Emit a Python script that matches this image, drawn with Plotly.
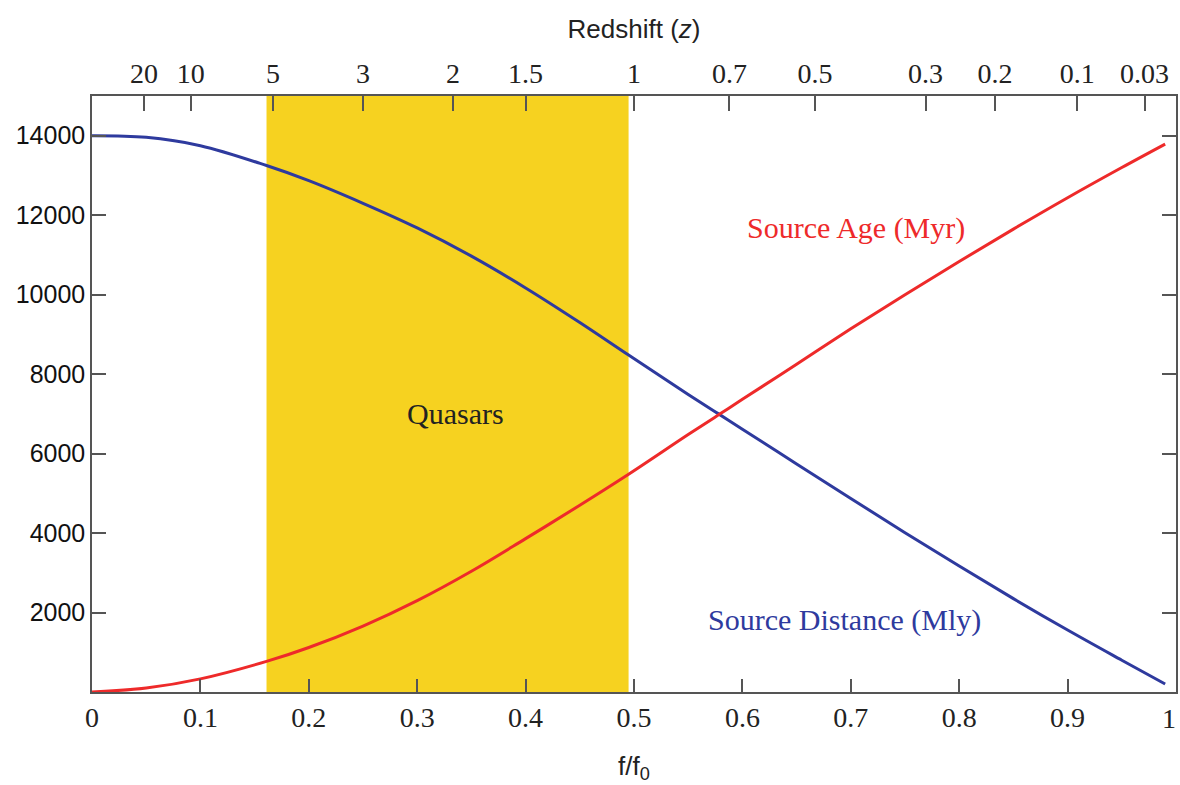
import plotly.graph_objects as go

# f/f0 sample positions
f_ratio = [0, 0.05, 0.1, 0.161, 0.2, 0.25, 0.3, 0.35, 0.4, 0.45, 0.495, 0.55,
           0.578, 0.6, 0.65, 0.7, 0.75, 0.8, 0.85, 0.9, 0.95, 0.99]
# Source distance (Mly)
distance = [14000, 13960, 13750, 13250, 12870, 12300, 11680, 10970, 10170, 9300,
            8480, 7490, 7000, 6615, 5740, 4870, 4010, 3170, 2350, 1560, 800, 200]
# Source age (Myr)
age = [0, 100, 330, 770, 1120, 1660, 2300, 3040, 3860, 4700, 5480, 6480,
       6975, 7365, 8250, 9140, 10000, 10835, 11650, 12440, 13200, 13790]

# Quasar band in f/f0
quasar_band = [0.161, 0.495]

# Bottom axis ticks
x_ticks = [0, 0.1, 0.2, 0.3, 0.4, 0.5, 0.6, 0.7, 0.8, 0.9, 1.0]
x_ticktext = ["0", "0.1", "0.2", "0.3", "0.4", "0.5", "0.6", "0.7", "0.8", "0.9", "1"]
# Top redshift axis ticks (positions in f/f0)
z_pos = [0.048, 0.091, 0.167, 0.25, 0.333, 0.4, 0.5, 0.588, 0.667, 0.769, 0.833, 0.909, 0.971]
z_text = ["20", "10", "5", "3", "2", "1.5", "1", "0.7", "0.5", "0.3", "0.2", "0.1", "0.03"]
# Y ticks
y_ticks = [2000, 4000, 6000, 8000, 10000, 12000, 14000]
y_ticktext = ["2000", "4000", "6000", "8000", "10000", "12000", "14000"]

BLUE = "#2E3A9E"
RED = "#EE2A2A"
BAND = "#F6D220"
AXIS = "#555555"
SERIF = "Liberation Serif, Times New Roman, serif"
SANS = "Liberation Sans, Arial, Helvetica, sans-serif"

fig = go.Figure()
fig.add_trace(go.Scatter(x=f_ratio, y=distance, mode="lines", line=dict(color=BLUE, width=3, shape="spline"),
                         showlegend=False, hoverinfo="skip"))
fig.add_trace(go.Scatter(x=f_ratio, y=age, mode="lines", line=dict(color=RED, width=3, shape="spline"),
                         showlegend=False, hoverinfo="skip"))
# invisible trace for top axis
fig.add_trace(go.Scatter(x=[0, 1], y=[0, 0], xaxis="x2", mode="lines", line=dict(width=0),
                         opacity=0, showlegend=False, hoverinfo="skip"))

fig.add_vrect(x0=quasar_band[0], x1=quasar_band[1], fillcolor=BAND, opacity=1, line_width=0, layer="below")

fig.add_annotation(x=0.335, y=7000, text="Quasars", showarrow=False,
                   font=dict(family=SERIF, size=30, color="#222222"))
fig.add_annotation(x=0.705, y=11670, text="Source Age (Myr)", showarrow=False,
                   font=dict(family=SERIF, size=30, color=RED))
fig.add_annotation(x=0.694, y=1810, text="Source Distance (Mly)", showarrow=False,
                   font=dict(family=SERIF, size=30, color=BLUE))
# label for the x=1 tick at the very right edge
fig.add_annotation(x=x_ticks[-1], y=0, xref="x", yref="paper", yanchor="top", xanchor="right",
                   yshift=-9, xshift=2,
                   text=x_ticktext[-1], showarrow=False,
                   font=dict(family=SERIF, size=28, color="#222222"))

fig.update_layout(
    width=1180, height=785,
    margin=dict(l=92, r=2, t=96, b=93),
    plot_bgcolor="white", paper_bgcolor="white",
    xaxis=dict(range=[0, 1.0], tickvals=x_ticks[:-1], ticktext=x_ticktext[:-1], ticks="inside", ticklen=13,
               tickwidth=1.5, tickcolor=AXIS, showline=True, linecolor=AXIS, linewidth=1.5,
               mirror=False, showgrid=False, zeroline=False,
               tickfont=dict(family=SERIF, size=28, color="#222222"),
               title=dict(text="f/f<sub>0</sub>", font=dict(family=SANS, size=26, color="#222222"), standoff=24)),
    xaxis2=dict(range=[0, 1.0], overlaying="x", side="top", tickvals=z_pos, ticktext=z_text,
                ticks="inside", ticklen=15, tickwidth=1.5, tickcolor=AXIS, showline=True,
                linecolor=AXIS, linewidth=1.5, showgrid=False, zeroline=False,
                tickfont=dict(family=SERIF, size=28, color="#222222"),
                title=dict(text="Redshift (<i>z</i>)", font=dict(family=SANS, size=26, color="#222222"), standoff=12)),
    yaxis=dict(range=[0, 15000], tickvals=y_ticks, ticktext=y_ticktext, ticks="inside", ticklen=14, tickwidth=1.5,
               tickcolor=AXIS, showline=True, linecolor=AXIS, linewidth=1.5, mirror="ticks",
               showgrid=False, zeroline=False,
               tickfont=dict(family=SANS, size=25, color="#111111")),
)

fig.write_html("out.html")
